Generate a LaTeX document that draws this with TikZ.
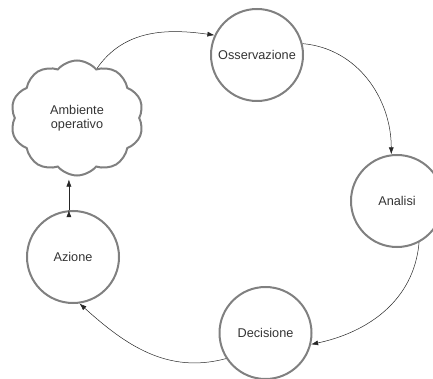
\documentclass[tikz,border=0pt]{standalone}
\usepackage{fontspec}
\setmainfont{Liberation Sans}
\usetikzlibrary{arrows.meta, shapes.symbols}

\begin{document}
\begin{tikzpicture}[
    x=1pt, y=-1pt,
    cerchio/.style = {circle, draw=black!50, line width=2pt, minimum size=92pt, inner sep=0pt},
    nuvola/.style = {cloud, cloud puffs=10, cloud puff arc=100, draw=black!50, line width=2pt,
                     minimum width=133pt, minimum height=115pt, align=center, inner sep=0pt},
    freccia/.style = {black!85, line width=0.5pt, -{Latex[length=7pt, width=5pt]}},
    font=\fontsize{12.7}{14}\selectfont, text=black!80
    ]
  \useasboundingbox (0,0) rectangle (433,379);

  \node[nuvola] (amb) at (77,118) {Ambiente\\operativo} ;
  \node[cerchio] (oss) at (257,55) {Osservazione} ;
  \node[cerchio] (ana) at (397,201) {Analisi} ;
  \node[cerchio] (dec) at (265.5,333) {Decisione} ;
  \node[cerchio] (az) at (73,257) {Azione} ;

  \draw[freccia]
  (amb.68) edge[out=55, in=172] (oss.155)
  (oss.14) edge[out=-5, in=90] (ana.97)
  (ana.-62) edge[out=-95, in=12] (dec.-14)
  (dec.-147) edge[out=195, in=-42] (az.-82)
  (az.95) edge[shorten >=3pt] (az.95 |- amb.south);
\end{tikzpicture}
\end{document}
